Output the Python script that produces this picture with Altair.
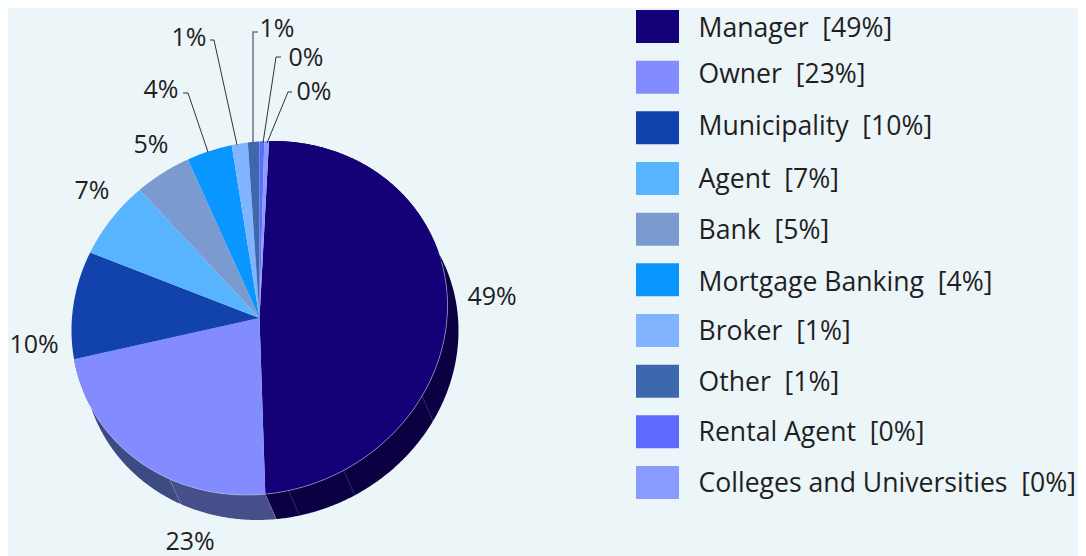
import numpy as np
import pandas as pd
import altair as alt

# ---------- data ----------
CATEGORIES = ["Manager", "Owner", "Municipality", "Agent", "Bank", "Mortgage Banking",
              "Broker", "Other", "Rental Agent", "Colleges and Universities"]
SHARES = [48.7, 21.8, 9.9, 7.3, 5.1, 4.0, 1.4, 1.0, 0.4, 0.4]
LABELS = ["49%", "23%", "10%", "7%", "5%", "4%", "1%", "1%", "0%", "0%"]
COLORS = ["#140077", "#828cff", "#1243ad", "#58b4ff", "#7b9bd0", "#0a96ff",
          "#80b4ff", "#3e68ad", "#5f6bff", "#8a9bff"]

# ---------- layout (screen pixels of the 1086x556 picture) ----------
W, H = 1070, 548
BG = "#ecf5f8"
CX, CY, RX, RY = 259.5, 318.0, 188.0, 177.0
TILT = 0.07          # the pie disc is a slightly rotated ellipse
DX, DY = 11.0, 25.0
START = 2.9
SEAMS = [117.0, 152.5, 171.0, 207.7]
FONT = "Open Sans"
LABEL_POS = [(492, 297), (190, 542), (34, 345), (92, 191), (151, 145),
             (161, 90), (189, 38), (277, 29), (306, 58), (314, 92)]
LEADERS = [
    ([(183, 93), (188, 93), (208, 152)], "#2b3440", 1.0),
    ([(210, 40), (214, 40), (237, 145)], "#2b3440", 1.0),
    ([(258, 32), (253, 32), (253, 142)], "#6f7d8c", 1.6),
    ([(281, 57), (276, 57), (263, 143)], "#2b3440", 1.0),
    ([(292, 92), (288, 92), (267, 143)], "#2b3440", 1.0),
]
SQ_X = 657.5
SQ_Y0, SQ_STEP = 26.5, 50.67
LEG_TEXT_X = 698.5
LEG_BASE = [36.7, 83.3, 135, 188, 239, 290.7, 340, 390.7, 440.7, 491.7]


def px(t, shift=(0.0, 0.0)):
    a = np.radians(t)
    r = np.sqrt(0.995 / (1 - 2 * TILT * np.sin(a) * np.cos(a)))
    return CX + RX * r * np.sin(a) + shift[0], CY - RY * r * np.cos(a) + shift[1]


edges = START + np.concatenate([[0], np.cumsum(SHARES)]) * 3.6

tops, sides = [], []
for k, cat in enumerate(CATEGORIES):
    t0, t1 = edges[k], edges[k + 1]
    ts = np.linspace(t0, t1, max(3, int((t1 - t0) * 2)))
    pts = [(CX, CY)] + [px(t) for t in ts] + [(CX, CY)]
    for n, (x, y) in enumerate(pts):
        tops.append(dict(id=cat, n=n, x=x, y=y, c=COLORS[k]))

# side walls of the two front slices, the Owner wall in two tones
WALLS = [(edges[0], edges[1], "#0b0042"), (edges[1], SEAMS[3], "#474f8b"), (SEAMS[3], edges[2], "#3e4a83")]
for k, (t0, t1, col) in enumerate(WALLS):
    ts = np.linspace(t0, t1, max(3, int((t1 - t0) * 2)))
    front = [px(t) for t in ts]
    back = [px(t, (DX, DY)) for t in ts[::-1]]
    for n, (x, y) in enumerate(front + back + front[:1]):
        sides.append(dict(id=k, n=n, x=x, y=y, c=col))

rim = [dict(n=n, x=px(t)[0], y=px(t)[1]) for n, t in enumerate(np.linspace(72, 238, 200))]
seams = []
for j, t in enumerate(SEAMS + [edges[1]]):
    for n, s in enumerate([(0, 0), (DX, DY)]):
        x, y = px(t, s)
        seams.append(dict(id=j, n=n, x=x, y=y))

lead = []
for j, (pts, col, sw) in enumerate(LEADERS):
    for n, (x, y) in enumerate(pts):
        lead.append(dict(id=j, n=n, x=x, y=y, c=col, w=sw))

X = alt.X("x:Q", scale=alt.Scale(domain=[8, 8 + W], range=[0, W], nice=False, zero=False), axis=None)
Y = alt.Y("y:Q", scale=alt.Scale(domain=[8, 8 + H], range=[0, H], nice=False, zero=False), axis=None)
NOC = alt.Color("c:N", scale=None, legend=None)


def poly(rows):
    return alt.Chart(pd.DataFrame(rows)).mark_line(filled=True, interpolate="linear").encode(
        x=X, y=Y, detail="id:N", order="n:Q", fill=alt.Fill("c:N", scale=None, legend=None))


side_layer = poly(sides)
top_layer = poly(tops)
seam_layer = alt.Chart(pd.DataFrame(seams)).mark_line(color="#8f95c0", strokeWidth=0.5, opacity=0.6).encode(
    x=X, y=Y, detail="id:N", order="n:Q")
rim_layer = alt.Chart(pd.DataFrame(rim)).mark_line(color="#b9bde0", strokeWidth=0.7, opacity=0.8).encode(
    x=X, y=Y, order="n:Q")
lead_layer = alt.Chart(pd.DataFrame(lead)).mark_line().encode(
    x=X, y=Y, detail="id:N", order="n:Q", color=NOC, strokeWidth=alt.StrokeWidth("w:Q", scale=None))

lab_df = pd.DataFrame(dict(x=[p[0] for p in LABEL_POS], y=[p[1] for p in LABEL_POS], t=LABELS))
lab_layer = alt.Chart(lab_df).mark_text(font=FONT, fontSize=25, color="#1f1f1f", align="center",
                                        baseline="middle").encode(x=X, y=Y, text="t:N")

sq_df = pd.DataFrame(dict(x=[SQ_X] * 10, y=[SQ_Y0 + i * SQ_STEP for i in range(10)], c=COLORS))
sq_layer = alt.Chart(sq_df).mark_point(shape="M-21.5,-16.5H21.5V16.5H-21.5Z", size=4, filled=True,
                                       opacity=1).encode(x=X, y=Y, fill=alt.Fill("c:N", scale=None, legend=None))

leg_txt = [f"{c}\u00a0\u00a0[{l}]" for c, l in zip(CATEGORIES, LABELS)]
lt_df = pd.DataFrame(dict(x=[LEG_TEXT_X] * 10, y=LEG_BASE, t=leg_txt))
lt_layer = alt.Chart(lt_df).mark_text(font=FONT, fontSize=26.6, color="#1f1f1f", align="left",
                                      baseline="alphabetic").encode(x=X, y=Y, text="t:N")

chart = alt.layer(side_layer, top_layer, seam_layer, rim_layer, lead_layer, lab_layer, sq_layer, lt_layer).properties(
    width=W, height=H, background=BG, padding=0,
    autosize=alt.AutoSizeParams(type="none"),
).configure_view(stroke=None)

chart.save("out.html", embed_options={"renderer": "svg", "actions": False})
